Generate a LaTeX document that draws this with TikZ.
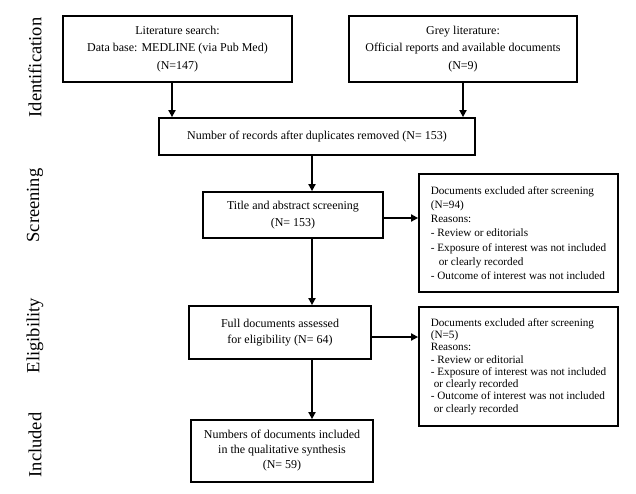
\documentclass[tikz,border=0pt]{standalone}
\usepackage{fontspec}
\setmainfont{Liberation Serif}
\usetikzlibrary{arrows.meta}
\begin{document}
\begin{tikzpicture}[x=1pt,y=-1pt,
  box/.style={draw, line width=1.8pt, inner sep=0pt, align=center, font=\fontsize{12}{16}\selectfont},
  exbox/.style={draw, line width=1.8pt, inner sep=0pt, align=left, minimum width=199pt, font=\fontsize{11.2}{14.2}\selectfont},
  arr/.style={line width=1.8pt, -{Triangle[length=7pt,width=7pt]}},
  side/.style={rotate=90, font=\fontsize{18.5}{20}\selectfont}]
\useasboundingbox[fill=white] (0,0) rectangle (636,493);

% side labels
\node[side] (sid) at (35,67.5) {Identification};
\node[side] (ssc) at (35,205.5) {Screening};
\node[side] (sel) at (35,335.5) {Eligibility};
\node[side] (sin) at (35,445) {Included};

% main boxes
\node[box, minimum width=229pt, minimum height=66pt, font=\fontsize{12}{17.5}\selectfont] (b1) at (177.5,49)
  {Literature search:\\Data base: MEDLINE (via Pub Med)\\(N=147)};
\node[box, minimum width=228pt, minimum height=66pt, font=\fontsize{12}{17.5}\selectfont] (b2) at (463,49)
  {Grey literature:\\Official reports and available documents\\(N=9)};
\node[box, minimum width=316pt, minimum height=37pt] (b3) at (317,136.5)
  {Number of records after duplicates removed (N= 153)};
\node[box, minimum width=180pt, minimum height=46pt, font=\fontsize{12}{17}\selectfont] (b4) at (293,215)
  {Title and abstract screening\\(N= 153)};
\node[box, minimum width=182pt, minimum height=53pt] (b5) at (280,332.5)
  {Full documents assessed\\for eligibility (N= 64)};
\node[box, minimum width=182pt, minimum height=62pt, font=\fontsize{12}{15}\selectfont] (b6) at (282,451)
  {Numbers of documents included\\in the qualitative synthesis\\(N= 59)};

% exclusion boxes
\node[exbox, minimum height=118pt] (bA) at (518.5,233)
  {Documents excluded after screening\\(N=94)\\Reasons:\\- Review or editorials\\- Exposure of interest was not included\\\hspace*{8pt}or clearly recorded\\- Outcome of interest was not included};
\node[exbox, minimum height=119pt, font=\fontsize{11.2}{12.3}\selectfont] (bB) at (518.5,366.5)
  {Documents excluded after screening\\(N=5)\\Reasons:\\- Review or editorial\\- Exposure of interest was not included\\\hspace*{3pt}or clearly recorded\\- Outcome of interest was not included\\\hspace*{3pt}or clearly recorded};

% connector guides
\coordinate (c1) at (172,0);
\coordinate (c2) at (463,0);
\coordinate (cm) at (312,0);
\coordinate (r1) at (0,218);
\coordinate (r2) at (0,337);

\draw[arr] (b1.south -| c1) -- (b3.north -| c1);
\draw[arr] (b2.south -| c2) -- (b3.north -| c2);
\draw[arr] (b3.south -| cm) -- (b4.north -| cm);
\draw[arr] (b4.south -| cm) -- (b5.north -| cm);
\draw[arr] (b5.south -| cm) -- (b6.north -| cm);
\draw[arr] (b4.east |- r1) -- (bA.west |- r1);
\draw[arr] (b5.east |- r2) -- (bB.west |- r2);
\end{tikzpicture}
\end{document}
